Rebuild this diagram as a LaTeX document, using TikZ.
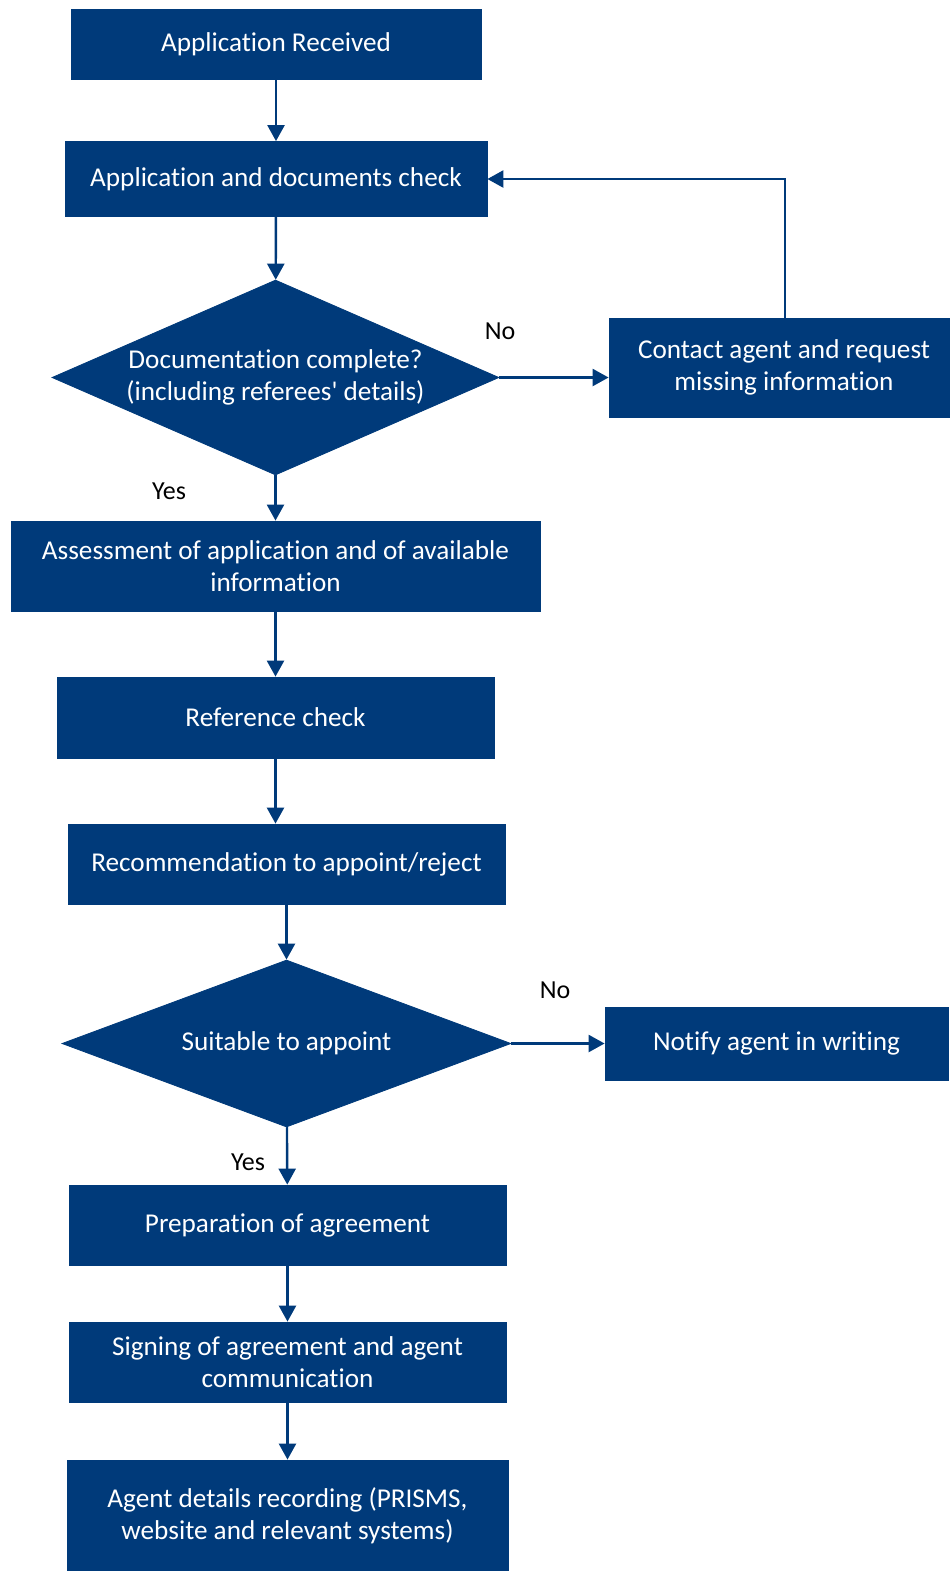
\documentclass[tikz,border=0pt]{standalone}
\usepackage{fontspec}
\setmainfont{Carlito}[Ligatures={NoCommon,TeXOff}]
\usetikzlibrary{shapes.geometric,arrows.meta}
\definecolor{navy}{RGB}{0,58,122}
\begin{document}
\begin{tikzpicture}[x=0.5pt,y=-0.5pt,
  box/.style={rectangle,fill=navy,draw=navy,text=white,align=center,inner sep=0pt,font=\fontsize{13.6}{16}\selectfont},
  dec/.style={diamond,fill=navy,draw=navy,text=white,align=center,inner sep=0pt,aspect=2.3,font=\fontsize{13.6}{16}\selectfont},
  conn/.style={draw=navy,line width=1.2pt,-{Triangle[width=8.5pt,length=8pt]}},
  lbl/.style={text=black,font=\fontsize{13}{14}\selectfont,inner sep=0pt}]
\useasboundingbox (0,0) rectangle (950,1571);
\node[box,minimum width=205pt,minimum height=35pt] (recv) at (276,44) {Application Received};
\node[box,minimum width=211pt,minimum height=37.5pt] (check) at (276,179) {Application and documents check};
\node[dec,minimum width=223.5pt,minimum height=97.5pt] (doc) at (275.5,377.5) {Documentation complete?\\(including referees' details)};
\node[box,minimum width=170pt,minimum height=49.5pt] (contact) at (779,367.5) {\hspace*{5pt}Contact agent and request\\\hspace*{5pt}missing information};
\node[box,minimum width=264.5pt,minimum height=45pt] (assess) at (275.5,566) {Assessment of application and of available\\information};
\node[box,minimum width=218.5pt,minimum height=40.5pt] (ref) at (275.5,717.5) {Reference check};
\node[box,minimum width=218.5pt,minimum height=40pt] (rec) at (286.5,864) {Recommendation to appoint/reject};
\node[dec,minimum width=224.5pt,minimum height=83.5pt] (suit) at (286.5,1043.5) {Suitable to appoint};
\node[box,minimum width=171.5pt,minimum height=36.5pt] (notify) at (776.5,1043.5) {Notify agent in writing};
\node[box,minimum width=218.5pt,minimum height=40pt] (prep) at (287.5,1225) {Preparation of agreement};
\node[box,minimum width=218.5pt,minimum height=40pt] (sign) at (287.5,1362) {Signing of agreement and agent\\communication};
\node[box,minimum width=220.5pt,minimum height=56pt] (rec2) at (287.5,1516) {Agent details recording (PRISMS,\\website and relevant systems)};
\coordinate (fb) at (785,179);
\draw[conn] (recv) -- (check);
\draw[conn] (check) -- (doc);
\draw[conn] (doc) -- (contact.west |- doc);
\draw[conn] (contact.north -| fb) -- (fb |- check.east) -- (check.east);
\draw[conn] (doc) -- (assess);
\draw[conn] (assess) -- (ref);
\draw[conn] (ref.south) -- (ref.south |- rec.north);
\draw[conn] (rec) -- (suit);
\draw[conn] (suit) -- (notify);
\draw[conn] (suit) -- (prep);
\draw[conn] (prep) -- (sign);
\draw[conn] (sign) -- (rec2);
\node[lbl] (no1) at (500,331) {No};
\node[lbl] (yes1) at (169,491) {Yes};
\node[lbl] (no2) at (555,990) {No};
\node[lbl] (yes2) at (248,1162) {Yes};
\end{tikzpicture}
\end{document}
